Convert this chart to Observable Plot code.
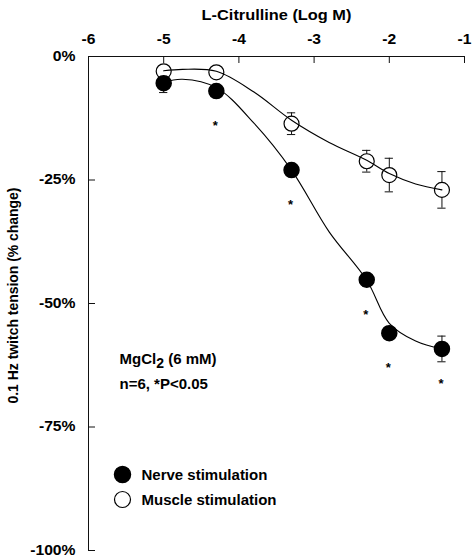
<!DOCTYPE html>
<html><head><meta charset="utf-8">
<script src="https://cdn.jsdelivr.net/npm/d3@7"></script>
<script src="https://cdn.jsdelivr.net/npm/@observablehq/plot@0.6"></script>
<style>body{margin:0;background:#fff}#chart svg{display:block}</style>
</head><body><div id="chart"></div>
<script>
// ---- data ----
const logConc = [-5, -4.3, -3.3, -2.3, -2, -1.3];
const nerveMean = [-5.4, -7.0, -23.0, -45.2, -56.0, -59.2];
const nerveSE = [1.9, 1.0, 1.0, 1.3, 1.2, 2.6];
const nerveSig = [false, true, true, true, true, true];
const muscleMean = [-3.0, -3.2, -13.6, -21.2, -24.0, -27.0];
const muscleSE = [1.0, 0.8, 2.2, 2.2, 3.4, 3.7];
// fitted curves at these log concentrations
const fitX = [-5, -4.75, -4.3, -3.8, -3.3, -2.8, -2.3, -2, -1.65, -1.3];
const nerveFit = [-5.2, -4.6, -6.3, -13.5, -23.0, -35.5, -45.3, -54.0, -57.6, -59.2];
const muscleFit = [-2.9, -2.6, -3.0, -7.2, -12.9, -17.4, -21.0, -23.7, -25.8, -27.0];
const xTicks = [-6, -5, -4, -3, -2, -1];
const yTicks = [0, -25, -50, -75, -100];
const seriesNames = ["Nerve stimulation", "Muscle stimulation"];
const xTitle = "L-Citrulline (Log M)";
const yTitle = "0.1 Hz twitch tension (% change)";
const noteLines = ["MgCl2 (6 mM)", "n=6, *P<0.05"];

const nerve = logConc.map((x, i) => ({x, y: nerveMean[i], se: nerveSE[i], sig: nerveSig[i]}));
const muscle = logConc.map((x, i) => ({x, y: muscleMean[i], se: muscleSE[i], sig: false}));
const all = nerve.concat(muscle);
const nerveCurve = fitX.map((x, i) => ({x, y: nerveFit[i]}));
const muscleCurve = fitX.map((x, i) => ({x, y: muscleFit[i]}));

const W = 474, H = 560, mT = 56, mL = 88, mR = 10, mB = 10;
const frameW = W - mL - mR, frameH = H - mT - mB;
const ink = "#111";
const capHalf = 0.055;
const xTickLabels = xTicks.map(d => String(d));
const yTickLabels = yTicks.map(d => d + "%");

const chart = Plot.plot({
  width: W, height: H,
  marginTop: mT, marginLeft: mL, marginRight: mR, marginBottom: mB,
  x: {domain: [-6, -1], axis: null},
  y: {domain: [-100, 0], axis: null},
  style: {fontFamily: "'Liberation Sans', Arial, Helvetica, sans-serif", fontSize: "13px", color: "#000", background: "#fff"},
  marks: [
    // axis lines
    Plot.ruleY([0], {stroke: ink, strokeWidth: 1}),
    Plot.ruleX([-6], {stroke: ink, strokeWidth: 1}),
    // inward ticks
    Plot.tickX(xTicks.slice(1), {x: d => d, insetBottom: frameH - 7, stroke: ink}),
    Plot.tickY(yTicks, {y: d => d, insetRight: frameW - 7, stroke: ink}),
    // tick labels
    Plot.text(xTicks, {x: d => d, text: (d, i) => xTickLabels[i], frameAnchor: "top", dy: -13, lineAnchor: "bottom",
      fontSize: 14, fontWeight: "bold"}),
    Plot.text(yTicks, {y: d => d, text: (d, i) => yTickLabels[i], frameAnchor: "left", dx: -13, textAnchor: "end",
      fontSize: 14, fontWeight: "bold"}),
    // axis titles
    Plot.text([xTitle], {frameAnchor: "top", dy: -37, lineAnchor: "bottom", textAnchor: "middle", fontSize: 15, fontWeight: "bold"}),
    Plot.text([yTitle], {frameAnchor: "left", dx: -75, dy: -8, rotate: -90, textAnchor: "middle", fontSize: 14, fontWeight: "bold"}),
    // error bars
    Plot.ruleX(all, {x: "x", y1: d => d.y - d.se, y2: d => d.y + d.se, stroke: ink, strokeWidth: 1}),
    Plot.ruleY(all, {y: d => d.y - d.se, x1: d => d.x - capHalf, x2: d => d.x + capHalf, stroke: ink, strokeWidth: 1}),
    Plot.ruleY(all, {y: d => d.y + d.se, x1: d => d.x - capHalf, x2: d => d.x + capHalf, stroke: ink, strokeWidth: 1}),
    // points
    Plot.dot(muscle, {x: "x", y: "y", r: 7.5, fill: "#fff", stroke: "#000", strokeWidth: 1.2}),
    Plot.dot(nerve, {x: "x", y: "y", r: 7.5, fill: "#000", stroke: "#000"}),
    // fitted curves
    Plot.line(muscleCurve, {x: "x", y: "y", curve: "catmull-rom", stroke: "#000", strokeWidth: 1.1}),
    Plot.line(nerveCurve, {x: "x", y: "y", curve: "catmull-rom", stroke: "#000", strokeWidth: 1.1}),
    // significance
    Plot.text(nerve.filter(d => d.sig), {x: "x", y: "y", text: () => "*", dy: 35, dx: -1, fontSize: 13, fontWeight: "bold"}),
    // notes
    Plot.text([noteLines[0]], {frameAnchor: "top-left", dx: 31, dy: 307, lineAnchor: "bottom", textAnchor: "start", fontSize: 15, fontWeight: "bold"}),
    Plot.text([noteLines[1]], {frameAnchor: "top-left", dx: 31, dy: 332, lineAnchor: "bottom", textAnchor: "start", fontSize: 15, fontWeight: "bold"}),
    // legend
    Plot.dot([seriesNames[0]], {frameAnchor: "top-left", dx: 34, dy: 418, r: 8, fill: "#000", stroke: "#000"}),
    Plot.dot([seriesNames[1]], {frameAnchor: "top-left", dx: 34, dy: 443, r: 8, fill: "#fff", stroke: "#000", strokeWidth: 1.2}),
    Plot.text([seriesNames[0]], {frameAnchor: "top-left", dx: 53, dy: 423, lineAnchor: "bottom", textAnchor: "start", fontSize: 15, fontWeight: "bold"}),
    Plot.text([seriesNames[1]], {frameAnchor: "top-left", dx: 53, dy: 448, lineAnchor: "bottom", textAnchor: "start", fontSize: 15, fontWeight: "bold"})
  ]
});
document.getElementById("chart").appendChild(chart);

// horizontally widen axis lettering to match the reference
const texts = Array.from(chart.querySelectorAll("text"));
function stretch(t, k) {
  const L = t.getComputedTextLength();
  t.setAttribute("textLength", (L * k).toFixed(1));
  t.setAttribute("lengthAdjust", "spacingAndGlyphs");
}
texts.forEach(t => {
  const s = t.textContent;
  if (xTickLabels.includes(s) || yTickLabels.includes(s)) stretch(t, 1.12);
  else if (s === xTitle) stretch(t, 1.09);
  else if (s === yTitle) stretch(t, 216 / t.getComputedTextLength());
});

// subscript in MgCl2
texts.forEach(t => {
  if (t.textContent === noteLines[0]) {
    const ns = "http://www.w3.org/2000/svg";
    t.textContent = "";
    t.appendChild(document.createTextNode("MgCl"));
    const s = document.createElementNS(ns, "tspan");
    s.setAttribute("dy", "4"); s.setAttribute("font-size", "14"); s.textContent = "2";
    const r = document.createElementNS(ns, "tspan");
    r.setAttribute("dy", "-4"); r.textContent = " (6 mM)";
    t.appendChild(s); t.appendChild(r);
  }
});
</script>
</body></html>
